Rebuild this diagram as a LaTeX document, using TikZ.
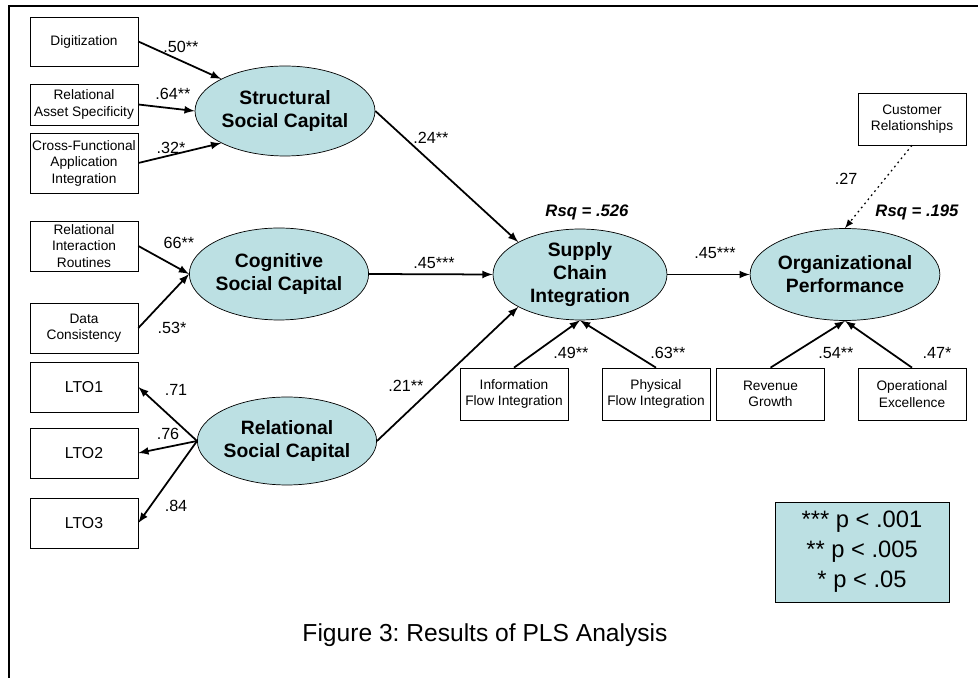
\documentclass[tikz,border=0pt]{standalone}
\usepackage{fontspec}
\setmainfont{Liberation Sans}
\usepackage{xcolor}
\usepackage{tikz}
\usetikzlibrary{positioning}
\usetikzlibrary{arrows,shapes}
\frenchspacing
\definecolor{capfill}{RGB}{188,224,227}
\tikzstyle{latent}=[ellipse,draw,fill=capfill,inner sep=0pt,align=center,font=\fontsize{11}{13}\selectfont\bfseries]
\tikzset{ind/.style={rectangle,draw,align=center,minimum width=2.16cm,inner sep=1pt,font=\fontsize{7.8}{9.4}\selectfont}}
\tikzset{coef/.style={inner sep=0pt,font=\fontsize{9.2}{10}\selectfont}}
\tikzset{rsq/.style={inner sep=0pt,font=\fontsize{9.5}{11}\selectfont\bfseries\itshape}}
\tikzset{effect/.style={->,line width=1pt}}

\begin{document}
\begin{tikzpicture}[x=0.02cm,y=-0.02cm,>=latex]
    \useasboundingbox (0,0) rectangle (978,678);
    \draw[line width=1.5pt] (9,678) -- (9,6) -- (978,6);

    % the five constructs
    \node[latent,minimum width=3.6cm,minimum height=1.8cm] (ssc) at (285,111) {Structural\\Social Capital};
    \node[latent,minimum width=3.36cm,minimum height=1.84cm] (csc) at (279,274) {Cognitive\\Social Capital};
    \node[latent,minimum width=3.36cm,minimum height=1.76cm] (rsc) at (287,441) {Relational\\Social Capital};
    \node[latent,minimum width=3.48cm,minimum height=1.82cm] (sci) at (580,274.5) {Supply\\Chain\\Integration};
    \node[latent,minimum width=3.48cm,minimum height=1.84cm] (op) at (845,274.5) {Organizational\\Performance};

    % indicators, left column
    \foreach \pos/\name/\hgt/\txt in {{(84,41.5)/dig/0.98cm/Digitization},
        {(84,104.5)/ras/0.82cm/Relational\\Asset Specificity},
        {(84,163)/cfa/1.2cm/Cross-Functional\\Application\\Integration},
        {(84,246)/rir/1cm/Relational\\Interaction\\Routines},
        {(84,328)/dc/1cm/Data\\Consistency}}
        \node[ind,minimum height=\hgt] (\name) at \pos {\txt};

    \foreach \y/\i in {387/1, 453/2, 523/3}
        \node[ind,minimum height=1cm,font=\fontsize{9}{11}\selectfont] (lto\i) at (84,\y) {LTO\i};

    % indicators, bottom row and customer box
    \foreach \pos/\name/\txt in {{(514,394)/ifi/Information\\Flow Integration},
        {(656,394)/pfi/Physical\\Flow Integration},
        {(770.5,394)/rev/Revenue\\Growth},
        {(912,394)/opx/Operational\\Excellence},
        {(912,119)/cust/Customer\\Relationships}}
        \node[ind,minimum height=1.04cm] (\name) at \pos {\txt};

    \draw[effect] (dig.east) -- (ssc.north west);
    \draw[effect] (ras.east) -- (ssc.west);
    \draw[effect] (cfa.east) -- (ssc.south west);

    \draw[effect] (rir.east) -- (csc.west);
    \draw[effect] (dc.east) -- (csc.west);

    \foreach \i in {1,2,3}
        \draw[effect] (rsc.west) -- (lto\i.east);

    \draw[effect] (ssc.east) -- (sci.north west);
    \draw[effect] (csc.east) -- (sci.west);
    \draw[effect] (rsc.east) -- (sci.south west);
    \draw[effect] (ifi.north) -- (sci.south);
    \draw[effect] (pfi.north) -- (sci.south);

    \draw[effect] (sci.east) -- (op.west);
    \draw[effect,dotted,line width=0.7pt] (cust.south) -- (op.north);
    \draw[effect] (rev.north) -- (op.south);
    \draw[effect] (opx.north) -- (op.south);

    % path coefficients
    \foreach \pos/\name/\txt in {{(181,47)/c50/.50**}, {(173,94)/c64/.64**},
        {(171,148)/c32/.32*}, {(179,243)/c66/66**}, {(172,328)/c53/.53*},
        {(176,390)/c71/.71}, {(168,434)/c76/.76}, {(176,506)/c84/.84},
        {(431,138)/c24/.24**}, {(434,263)/c45a/.45***}, {(406,386)/c21/.21**},
        {(571,353)/c49/.49**}, {(668,353)/c63/.63**}, {(715,253)/c45b/.45***},
        {(846,179)/c27/.27}, {(836,353)/c54/.54**}, {(937,353)/c47/.47*}}
        \node[coef] (\name) at \pos {\txt};

    \node[rsq] (rsqsci) at (587,212) {Rsq = .526};
    \node[rsq] (rsqop) at (917,212) {Rsq = .195};

    \node[draw,fill=capfill,minimum width=3.48cm,minimum height=2cm,align=center,
        font=\fontsize{13.5}{17}\selectfont] (key) at (862,552) {*** p < .001\\** p < .005\\* p < .05};

    \node[font=\fontsize{14}{16}\selectfont] (caption) at (485,635) {Figure 3: Results of PLS Analysis};
\end{tikzpicture}
\end{document}
